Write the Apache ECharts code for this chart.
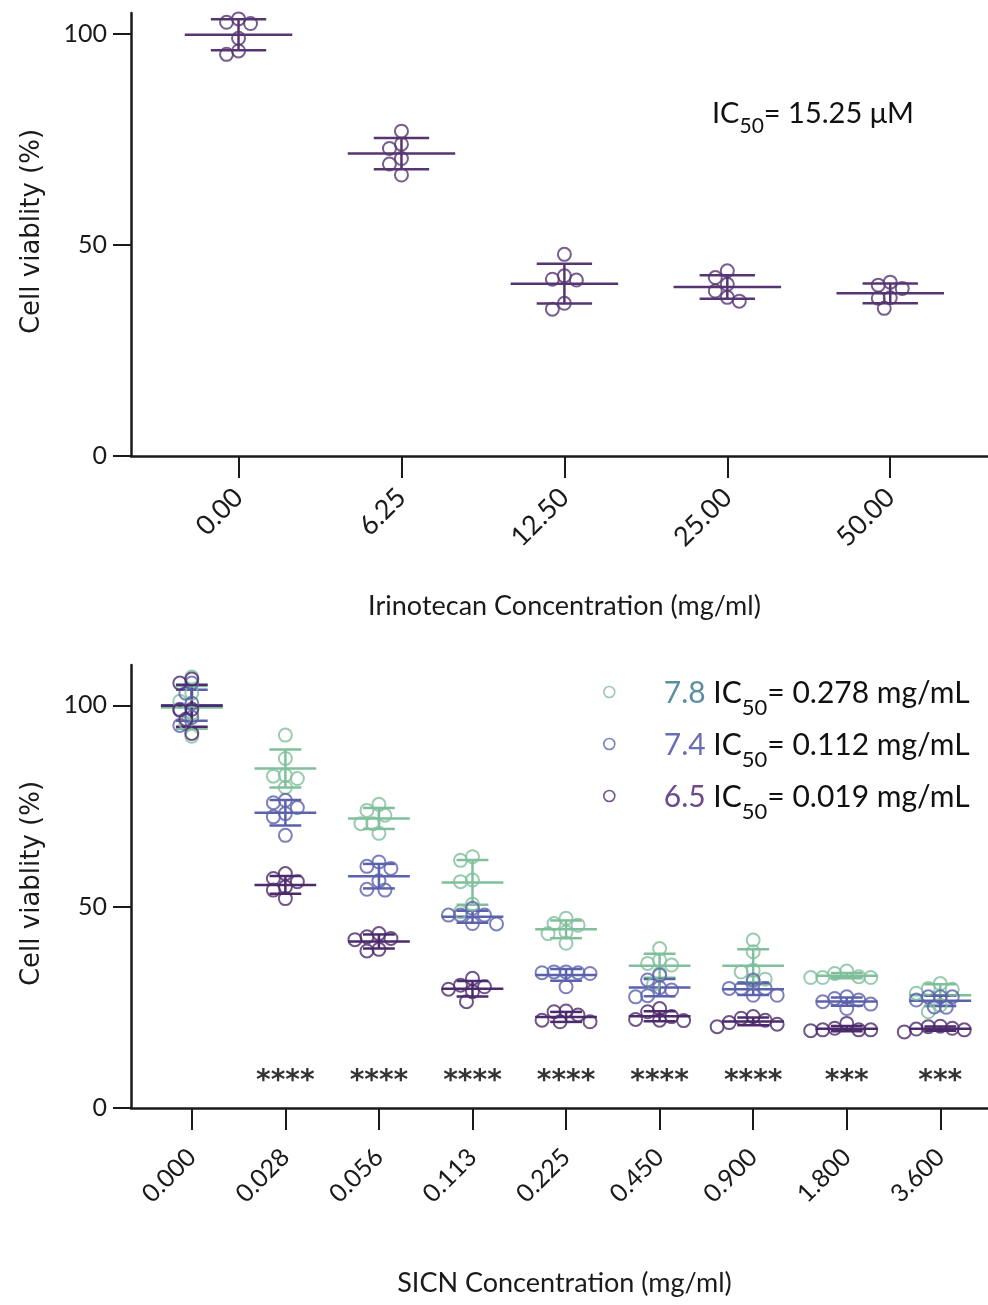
<!DOCTYPE html>
<html>
<head>
<meta charset="utf-8">
<script src="https://cdn.jsdelivr.net/npm/echarts@6/dist/echarts.min.js"></script>
<style>
  html, body { margin: 0; padding: 0; background: #fff; }
  #chart { width: 988px; height: 1305px; }
</style>
</head>
<body>
<div id="chart"></div>
<script>
// ---------- DATA ----------
const irinoCats = ['0.00', '6.25', '12.50', '25.00', '50.00'];
const irinoValues = [
  [102.8, 102.5, 103.6, 99.0, 96.0, 95.2],
  [77.0, 73.9, 72.9, 70.5, 69.2, 66.6],
  [47.8, 42.7, 41.9, 41.7, 36.2, 34.8],
  [40.7, 42.3, 39.1, 43.9, 37.6, 36.7],
  [40.5, 37.5, 39.7, 37.4, 41.2, 35.0]
];
const irinoIC50 = '15.25 μM';

const sicnCats = ['0.000', '0.028', '0.056', '0.113', '0.225', '0.450', '0.900', '1.800', '3.600'];
const seriesNames = ['7.8', '7.4', '6.5'];
const ic50Labels = ['0.278 mg/mL', '0.112 mg/mL', '0.019 mg/mL'];
const pH78 = [
  [107.0, 103.0, 101.0, 98.0, 95.5, 92.3],
  [92.6, 86.8, 82.6, 81.8, 82.4, 79.6],
  [75.4, 73.9, 72.7, 70.6, 70.6, 68.2],
  [62.4, 61.5, 56.6, 56.2, 50.6, 48.7],
  [47.1, 45.8, 45.4, 43.7, 43.3, 40.9],
  [39.6, 36.7, 35.9, 35.5, 33.4, 30.8],
  [41.7, 38.8, 34.2, 33.8, 31.3, 32.0],
  [34.0, 33.4, 32.6, 32.4, 32.4, 32.4],
  [30.9, 29.7, 29.5, 28.5, 25.5, 23.9]
];
const pH74 = [
  [105.5, 103.0, 100.5, 99.0, 97.0, 95.0],
  [76.4, 74.6, 73.1, 75.8, 72.3, 67.7],
  [61.1, 60.0, 59.5, 56.4, 54.3, 54.1],
  [49.6, 47.9, 47.9, 47.9, 45.8, 45.7],
  [33.8, 33.6, 33.6, 33.8, 33.4, 30.1],
  [33.0, 31.8, 29.9, 29.3, 27.9, 27.6],
  [31.8, 29.7, 29.7, 29.7, 28.0, 28.0],
  [27.6, 27.2, 26.8, 26.4, 25.8, 24.7],
  [27.6, 27.6, 27.6, 26.8, 25.1, 25.0]
];
const pH65 = [
  [106.5, 105.5, 99.0, 98.8, 96.5, 93.0],
  [58.2, 57.0, 56.2, 54.9, 54.1, 52.0],
  [43.3, 42.5, 42.1, 41.8, 39.4, 39.0],
  [32.2, 30.5, 30.1, 29.5, 28.9, 26.4],
  [24.1, 23.9, 23.1, 21.8, 21.4, 21.4],
  [24.7, 23.9, 22.7, 22.0, 21.8, 21.7],
  [22.7, 22.3, 21.8, 21.2, 20.8, 20.2],
  [21.0, 19.8, 19.4, 19.4, 19.4, 19.2],
  [20.3, 20.2, 19.8, 19.4, 18.9, 19.6]
];
const stars = ['', '****', '****', '****', '****', '****', '****', '***', '***'];
const yTicks = [0, 50, 100];

// ---------- LAYOUT / STYLE ----------
const FONT = 'Lato, "Open Sans", sans-serif';
const TFONT = '"DejaVu Sans", sans-serif';
const AX = '#1a1a1a';
const colTop = '#553672';
const cols = ['#7fbf9b', '#5b61ac', '#4c2a6c'];
const nameCols = ['#5b8fa0', '#6a6db5', '#6a4c8c'];
const G1 = { left: 131, top: 13, width: 857, height: 443 };
const G2 = { left: 131, top: 665, width: 857, height: 443 };
const X1 = [-0.66, 4.6], Y1 = [0, 105];
const X2 = [-0.65, 8.51], Y2 = [0, 110];

function stats(a) {
  const m = a.reduce((s, v) => s + v, 0) / a.length;
  const sd = Math.sqrt(a.reduce((s, v) => s + (v - m) * (v - m), 0) / (a.length - 1));
  return [m, sd];
}
// simple beeswarm: horizontal offsets (in axis units) so circles do not pile up
function swarm(vals, pxX, pxY) {
  const minD = 11, step = 6;
  const order = vals.map((v, i) => i).sort((a, b) => vals[b] - vals[a]);
  const placed = [], off = new Array(vals.length);
  for (const i of order) {
    const y = vals[i] * pxY;
    for (let k = 0; k < 60; k++) {
      const n = Math.ceil(k / 2);
      const cand = k === 0 ? 0 : (k % 2 ? -n * step : n * step);
      if (placed.every(p => Math.hypot(p.x - cand, p.y - y) >= minD)) {
        placed.push({ x: cand, y: y });
        off[i] = cand / pxX;
        break;
      }
    }
  }
  return off;
}
function scatterData(groups, grid, xr, yr) {
  const pxX = grid.width / (xr[1] - xr[0]);
  const pxY = grid.height / (yr[1] - yr[0]);
  const out = [];
  groups.forEach((vals, g) => {
    const off = swarm(vals, pxX, pxY);
    vals.forEach((v, i) => out.push([g + off[i], v]));
  });
  return out;
}
function errSeries(groups, color, xi) {
  return {
    type: 'custom', xAxisIndex: xi, yAxisIndex: xi, silent: true, clip: false,
    data: groups.map((a, g) => [g].concat(stats(a))),
    renderItem: function (params, api) {
      const x = api.value(0), m = api.value(1), s = api.value(2);
      const st = { stroke: color, lineWidth: 2.5 };
      const seg = (a, b) => ({ type: 'line', shape: { x1: a[0], y1: a[1], x2: b[0], y2: b[1] }, style: st });
      return {
        type: 'group', children: [
          seg(api.coord([x - 0.33, m]), api.coord([x + 0.33, m])),
          seg(api.coord([x, m - s]), api.coord([x, m + s])),
          seg(api.coord([x - 0.17, m + s]), api.coord([x + 0.17, m + s])),
          seg(api.coord([x - 0.17, m - s]), api.coord([x + 0.17, m - s]))
        ]
      };
    }
  };
}
function scatterSeries(name, data, color, xi) {
  return {
    type: 'scatter', name: name, xAxisIndex: xi, yAxisIndex: xi, data: data,
    symbol: 'circle', symbolSize: 13,
    itemStyle: { color: 'rgba(255,255,255,0)', borderColor: color, borderWidth: 2 },
    emphasis: { disabled: true }, silent: true
  };
}
function xAxisCfg(gi, xr, cats, name, gap, fs, margin) {
  const idx = cats.map((c, i) => i);
  return {
    gridIndex: gi, type: 'value', min: xr[0], max: xr[1],
    axisLine: { onZero: false, lineStyle: { color: AX, width: 2.5 } },
    axisTick: { customValues: idx, length: 22, lineStyle: { color: AX, width: 2 } },
    axisLabel: { customValues: idx, formatter: v => cats[Math.round(v)], rotate: 45, margin: margin,
      fontSize: fs, fontFamily: FONT, color: AX },
    splitLine: { show: false },
    name: name, nameLocation: 'middle', nameGap: gap,
    nameTextStyle: { fontSize: 27, fontFamily: FONT, color: AX, padding: [0, 0, 0, 10] }
  };
}
function yAxisCfg(gi, yr) {
  return {
    gridIndex: gi, type: 'value', min: yr[0], max: yr[1],
    axisLine: { show: true, onZero: false, lineStyle: { color: AX, width: 2.5 } },
    axisTick: { show: true, customValues: yTicks, length: 18, lineStyle: { color: AX, width: 2 } },
    axisLabel: { customValues: yTicks, margin: 24, fontSize: 25, fontFamily: FONT, color: AX },
    splitLine: { show: false },
    name: 'Cell viablity (%)', nameLocation: 'middle', nameGap: 86,
    nameTextStyle: { fontSize: 26, fontFamily: TFONT, color: AX, padding: [0, 0, 0, 6] }
  };
}

const bottomGroups = [pH78, pH74, pH65];
const series = [
  errSeries(irinoValues, colTop, 0),
  scatterSeries('irinotecan', scatterData(irinoValues, G1, X1, Y1), colTop, 0)
];
bottomGroups.forEach((grp, k) => {
  series.push(errSeries(grp, cols[k], 1));
  series.push(scatterSeries(seriesNames[k], scatterData(grp, G2, X2, Y2), cols[k], 1));
});
series.push({
  type: 'scatter', xAxisIndex: 1, yAxisIndex: 1, symbolSize: 0, silent: true,
  data: stars.map((s, i) => [i, 6.6, s]).filter(d => d[2]),
  label: { show: true, position: 'inside', formatter: p => p.value[2],
    fontSize: 28, fontWeight: 'bold', fontFamily: TFONT, color: '#000' }
});

const richMain = { fontSize: 30, fontFamily: FONT, color: '#111', lineHeight: 32, padding: [2, 0, 14, 0], verticalAlign: 'top' };
const richSub = { fontSize: 22, fontFamily: FONT, color: '#111', lineHeight: 24, padding: [21, 0, 0, 0], verticalAlign: 'top' };
const legendRich = { sp: { width: 44 }, b: richMain, s: richSub };
nameCols.forEach((c, k) => { legendRich['n' + k] = Object.assign({}, richMain, { color: c }); });

const chart = echarts.init(document.getElementById('chart'), null, { renderer: 'canvas' });
chart.setOption({
  animation: false,
  backgroundColor: '#fff',
  grid: [
    Object.assign({ containLabel: false }, G1),
    Object.assign({ containLabel: false }, G2)
  ],
  xAxis: [
    xAxisCfg(0, X1, irinoCats, 'Irinotecan Concentration (mg/ml)', 137, 27, 37),
    xAxisCfg(1, X2, sicnCats, 'SICN Concentration (mg/ml)', 162, 25, 45)
  ],
  yAxis: [yAxisCfg(0, Y1), yAxisCfg(1, Y2)],
  legend: {
    data: seriesNames, orient: 'vertical', left: 603, top: 676, padding: 0,
    itemWidth: 11, itemHeight: 11, itemGap: 6,
    itemStyle: { borderWidth: 1.6 },
    formatter: name => {
      const k = seriesNames.indexOf(name);
      return '{sp|}{n' + k + '|' + name + '}{b| IC}{s|50}{b|= ' + ic50Labels[k] + '}';
    },
    textStyle: { rich: legendRich },
    selectedMode: false
  },
  graphic: [{
    type: 'text', left: 712, top: 91, silent: true,
    style: {
      text: '{b|IC}{s|50}{b|= ' + irinoIC50 + '}',
      rich: {
        b: { fontSize: 29, fontFamily: FONT, fill: '#111', lineHeight: 30, padding: [8, 0, 8, 0], verticalAlign: 'top' },
        s: { fontSize: 21, fontFamily: FONT, fill: '#111', lineHeight: 20, padding: [25, 0, 0, 0], verticalAlign: 'top' }
      }
    }
  }],
  series: series
});
</script>
</body>
</html>
